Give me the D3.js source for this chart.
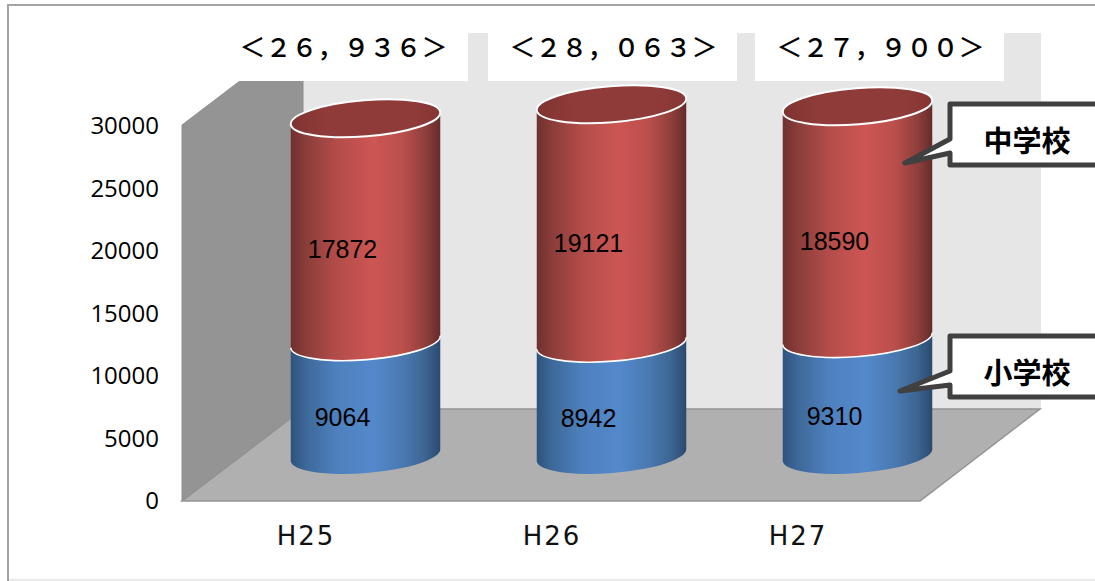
<!DOCTYPE html>
<html lang="ja">
<head>
<meta charset="utf-8">
<script src="https://cdn.jsdelivr.net/npm/d3@7/dist/d3.min.js"></script>
<style>
  html, body { margin: 0; padding: 0; background: #fff; overflow: hidden; }
  svg { display: block; }
</style>
</head>
<body>
<svg id="chart" width="1095" height="581"></svg>
<script>
// Enrolment by school type, stacked as 3D cylinders
const years = ["H25", "H26", "H27"];
const elementary = [9064, 8942, 9310];
const juniorHigh = [17872, 19121, 18590];
const totals = ["＜２６，９３６＞", "＜２８，０６３＞", "＜２７，９００＞"];
const yTicks = [0, 5000, 10000, 15000, 20000, 25000, 30000];

const svg = d3.select("#chart");

// Frame and scene geometry
const x0 = 182, x1 = 920, yBase = 501;
const depthX = 121, depthY = 92;
const y = d3.scaleLinear().domain([0, 30000]).range([yBase - 1, 125]);
const x = d3.scaleBand().domain(years).range([x0, x1]);
const rx = 75, ry = 18, tilt = 4.6 * Math.PI / 180;

const defs = svg.append("defs");
function hGrad(id, stops) {
  const g = defs.append("linearGradient").attr("id", id)
    .attr("x1", 0).attr("x2", 1).attr("y1", 0).attr("y2", 0);
  stops.forEach(([o, c]) => g.append("stop").attr("offset", o).attr("stop-color", c));
}
hGrad("redBody", [[0, "#6f302e"], [0.1, "#8a3d3a"], [0.3, "#b24c49"], [0.55, "#cd5653"], [0.75, "#b94f4c"], [0.9, "#8f3f3c"], [1, "#652b2a"]]);
hGrad("blueBody", [[0, "#2f527c"], [0.1, "#3d6899"], [0.3, "#4d80bd"], [0.55, "#5389cb"], [0.75, "#4a79b1"], [0.9, "#3c6591"], [1, "#2a4a6f"]]);
hGrad("capFill", [[0, "#803432"], [0.25, "#8f3b39"], [0.8, "#8f3b39"], [1, "#863634"]]);

// Outer frame: strong top and left edges, faint bottom edge
svg.append("path").attr("d", "M1095,5H8V581").attr("fill", "none")
  .attr("stroke", "#a3a3a3").attr("stroke-width", 2);
svg.append("path").attr("d", "M9,580H1095").attr("fill", "none")
  .attr("stroke", "#e2e2e2").attr("stroke-width", 1.5);

// Walls and floor
const topFront = y(30000);
svg.append("rect").attr("x", x0 + depthX).attr("y", topFront - depthY)
  .attr("width", x1 - x0).attr("height", yBase - topFront)
  .attr("fill", "#e6e6e6");
svg.append("polygon")
  .attr("points", [[x0, topFront], [x0 + depthX, topFront - depthY], [x0 + depthX, yBase - depthY], [x0, yBase]].join(" "))
  .attr("fill", "#949494").attr("stroke", "#8c8c8c");
svg.append("polygon")
  .attr("points", [[x0, yBase], [x0 + depthX, yBase - depthY], [x1 + depthX - 1, yBase - depthY], [x1, yBase]].join(" "))
  .attr("fill", "#b0b0b0").attr("stroke", "#929292").attr("stroke-width", 1.5);

// White plates behind the yearly totals
const plateLeft = [218, 488, 755];
svg.selectAll("rect.plate").data(plateLeft).join("rect").attr("class", "plate")
  .attr("x", d => d).attr("y", topFront - depthY)
  .attr("width", (d, i) => i === 0 ? 250 : 249).attr("height", 48).attr("fill", "#fff");

svg.selectAll("text.total").data(totals).join("text").attr("class", "total")
  .attr("x", (d, i) => plateLeft[i] + 125.5)
  .attr("y", 57)
  .attr("text-anchor", "middle")
  .attr("font-family", "'Noto Sans CJK JP'")
  .attr("font-weight", 500)
  .attr("font-size", 26)
  .attr("fill", "#000")
  .text(d => d);

// Value axis, labels only
const yAxis = d3.axisLeft(y).tickValues(yTicks).tickSize(0).tickPadding(0).tickFormat(d3.format("d"));
const yG = svg.append("g").attr("transform", "translate(159,1)").call(yAxis);
yG.select(".domain").remove();
yG.selectAll("text").attr("font-family", "'Open Sans'").attr("font-size", 24).attr("fill", "#000");

// Category axis, labels only
const xAxis = d3.axisBottom(x).tickSize(0).tickPadding(0);
const xG = svg.append("g").attr("transform", "translate(1,524)").call(xAxis);
xG.select(".domain").remove();
xG.selectAll("text").attr("font-family", "'DejaVu Sans'").attr("font-size", 26)
  .attr("letter-spacing", 2).attr("fill", "#111").attr("dy", "0.8em");

// Cylinders
const arcPt = (cx, cy, s) => [cx + s * rx * Math.cos(tilt), cy - s * rx * Math.sin(tilt)];
const rotDeg = -tilt * 180 / Math.PI;
const centerX = d => x(d) + x.bandwidth() / 2 + depthX / 2;
const level = v => y(v) - 45;

function segmentPath(cx, yLow, yHigh) {
  const [lx, ly] = arcPt(cx, yLow, -1), [rxp, ryp] = arcPt(cx, yLow, 1);
  const [lx2, ly2] = arcPt(cx, yHigh, -1), [rx2, ry2] = arcPt(cx, yHigh, 1);
  return `M${lx},${ly}A${rx},${ry} ${rotDeg} 0 0 ${rxp},${ryp}L${rx2},${ry2}A${rx},${ry} ${rotDeg} 0 1 ${lx2},${ly2}Z`;
}
function frontArc(cx, cy) {
  const [lx, ly] = arcPt(cx, cy, -1), [rxp, ryp] = arcPt(cx, cy, 1);
  return `M${lx},${ly}A${rx},${ry} ${rotDeg} 0 0 ${rxp},${ryp}`;
}

const cyl = svg.selectAll("g.cyl").data(years).join("g").attr("class", "cyl");
cyl.append("path")
  .attr("d", (d, i) => segmentPath(centerX(d), level(0), level(elementary[i])))
  .attr("fill", "url(#blueBody)");
cyl.append("path")
  .attr("d", (d, i) => segmentPath(centerX(d), level(elementary[i]), level(elementary[i] + juniorHigh[i])))
  .attr("fill", "url(#redBody)");
cyl.append("path")
  .attr("d", (d, i) => frontArc(centerX(d), level(elementary[i])))
  .attr("fill", "none").attr("stroke", "#fff").attr("stroke-width", 1.6);
cyl.append("ellipse")
  .attr("rx", rx).attr("ry", ry)
  .attr("transform", (d, i) => `translate(${centerX(d)},${level(elementary[i] + juniorHigh[i])}) rotate(${rotDeg})`)
  .attr("fill", "url(#capFill)").attr("stroke", "#fff").attr("stroke-width", 2);

// Segment values
const valueLabel = (values, base) => cyl.append("text")
  .attr("x", d => centerX(d) - 23)
  .attr("y", (d, i) => level(base(i) + values[i] / 2) + 28)
  .attr("text-anchor", "middle")
  .attr("font-family", "'Liberation Sans'").attr("font-size", 25).attr("fill", "#000")
  .text((d, i) => values[i]);
valueLabel(elementary, () => 0);
valueLabel(juniorHigh, i => elementary[i]);

// Callouts naming each series
const calloutNames = ["中学校", "小学校"];
const calloutTop = [104, 336];
const calloutTip = [[905, 163], [900, 391]];
const boxLeft = 950, boxH = 61;
calloutNames.forEach((name, i) => {
  const t = calloutTop[i], [tx, ty] = calloutTip[i];
  const notchA = t + 35, notchB = t + 49;
  svg.append("path")
    .attr("d", `M1110,${t}H${boxLeft}V${notchA}L${tx},${ty}L${boxLeft},${notchB}V${t + boxH}H1110Z`)
    .attr("fill", "#fff").attr("stroke", "#404040").attr("stroke-width", 5).attr("stroke-linejoin", "round");
  svg.append("text")
    .attr("x", 1027).attr("y", t + 48)
    .attr("text-anchor", "middle")
    .attr("font-family", "'Noto Sans CJK JP'").attr("font-weight", 700).attr("font-size", 29)
    .attr("fill", "#000").text(name);
});
</script>
</body>
</html>
